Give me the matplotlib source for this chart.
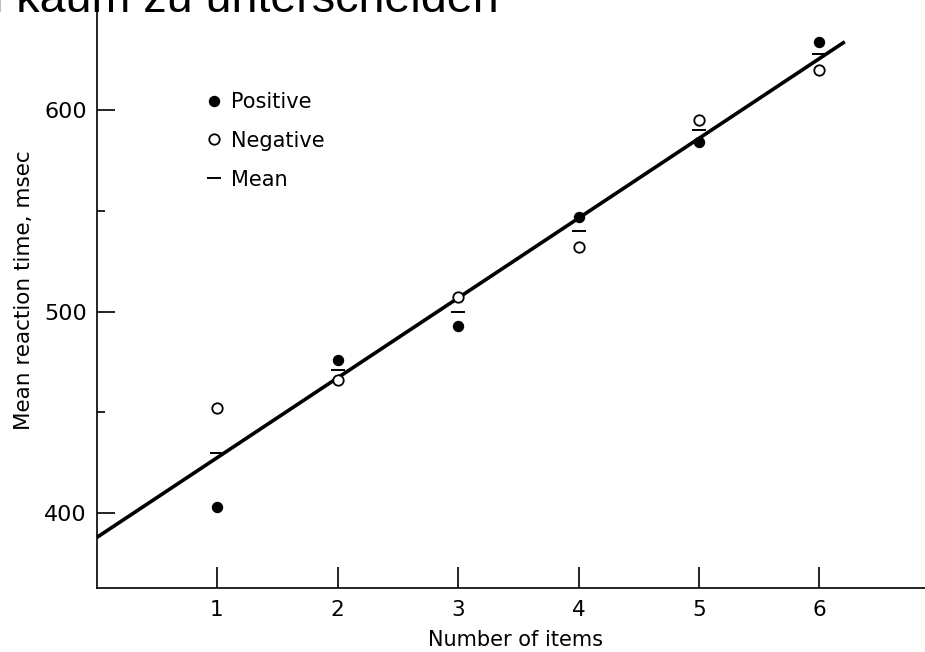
import numpy as np
import matplotlib.pyplot as plt
from matplotlib.ticker import FixedLocator

# Datos (Sternberg)
set_size = [1, 2, 3, 4, 5, 6]
positive_rt = [403, 476, 493, 547, 584, 634]
negative_rt = [452, 466, 507, 532, 595, 620]
mean_rt = [430, 471, 500, 540, 590, 628]
fit_x_range = [0, 6.21]

y_major = [400, 500, 600]
y_minor = [450, 550]
x_ticks = [1, 2, 3, 4, 5, 6]

title_text = "Positive und negative Antworten kaum zu unterscheiden"

plt.rcParams['font.family'] = ['DejaVu Sans']

fig = plt.figure(figsize=(9.25, 6.52), dpi=100)
ax = fig.add_axes([96.5 / 925, 1 - 588 / 652, 1 - 96.5 / 925, 588 / 652])

# Recta de regresion sobre las medias
slope, intercept = np.polyfit(set_size, mean_rt, 1)
xs = np.array(fit_x_range)
ax.plot(xs, intercept + slope * xs, color='black', lw=2.6, solid_capstyle='butt', zorder=2)

ax.plot(set_size, positive_rt, 'o', color='black', ms=7.2, ls='none', label='Positive', zorder=3)
ax.plot(set_size, negative_rt, 'o', mfc='white', mec='black', mew=1.3, ms=7.5, ls='none',
        label='Negative', zorder=3)
ax.plot(set_size, mean_rt, '_', color='black', ms=10, mew=1.4, ls='none', label='Mean', zorder=3)

ax.set_xlim(0, (925 - 96.5) / 120.5)
ax.set_ylim(362.8, 654.6)

for side in ['top', 'right']:
    ax.spines[side].set_visible(False)
for side in ['left', 'bottom']:
    ax.spines[side].set_linewidth(1.2)

ax.xaxis.set_major_locator(FixedLocator(x_ticks))
ax.yaxis.set_major_locator(FixedLocator(y_major))
ax.yaxis.set_minor_locator(FixedLocator(y_minor))
ax.tick_params(axis='x', direction='in', length=15, width=1.2, pad=9, labelsize=15.5)
ax.tick_params(axis='y', which='major', direction='in', length=13, width=1.2, pad=7, labelsize=16)
ax.tick_params(axis='y', which='minor', direction='in', length=6, width=1.2)

ax.set_xlabel('Number of items', fontsize=15)
ax.xaxis.set_label_coords((515 - 96.5) / (925 - 96.5), -(630 - 588) / 588)
ax.set_ylabel('Mean reaction time, msec', fontsize=15.5)
ax.yaxis.set_label_coords(-(96.5 - 34) / (925 - 96.5), (588 - 290) / 588)

leg = ax.legend(loc='upper left', bbox_to_anchor=(206 / 925, 1 - 92 / 652),
                bbox_transform=fig.transFigure, frameon=False, fontsize=15,
                handlelength=0.8, handletextpad=0.4, labelspacing=0.9,
                borderpad=0, borderaxespad=0)

# Titulo cortado en la parte superior
fig.text(499 / 925, 1 - 12 / 652, title_text, ha='right', va='baseline',
         fontsize=33.6, family=['Liberation Sans', 'DejaVu Sans'])

fig.savefig('out.png', dpi=100)
